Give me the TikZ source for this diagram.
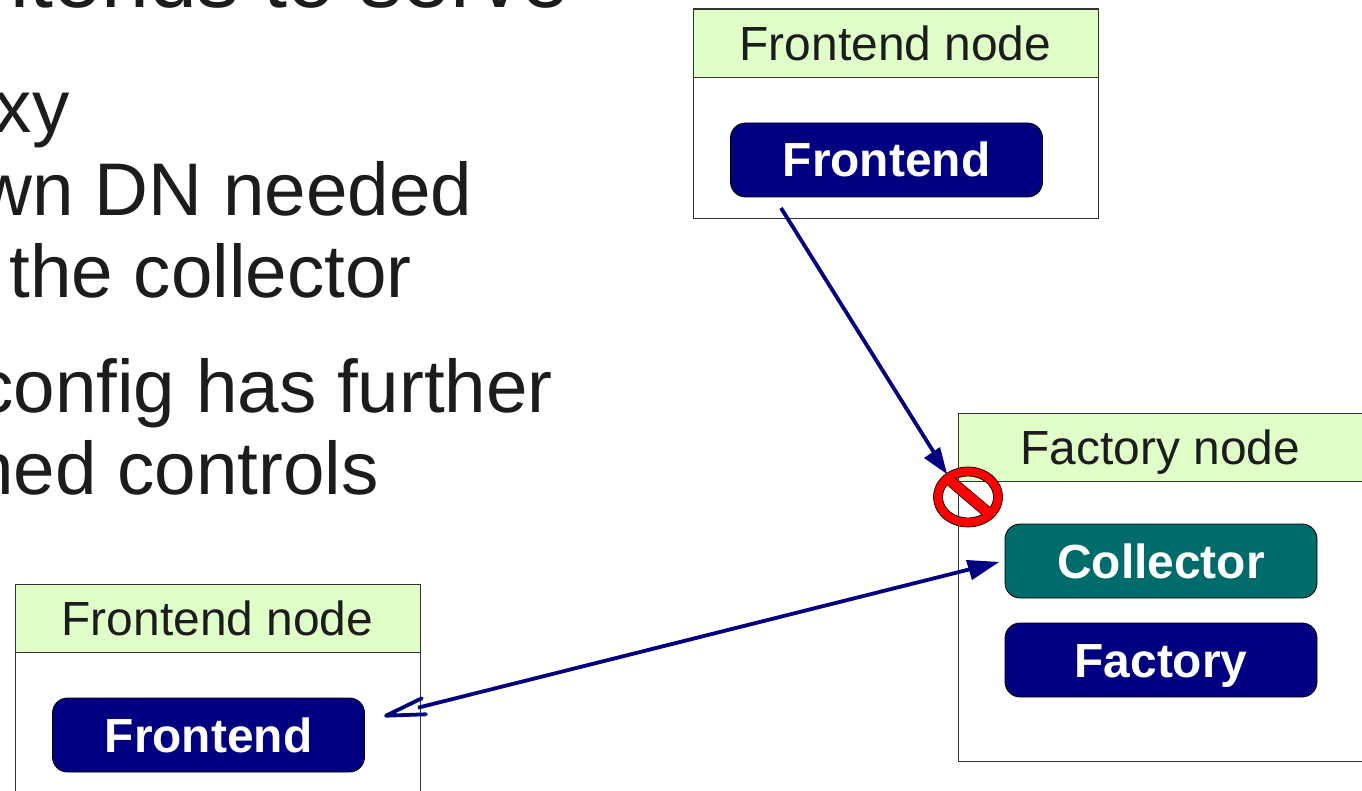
\documentclass[tikz,border=0pt]{standalone}
\usepackage{fontspec}
\setmainfont{Liberation Sans}
\definecolor{ink}{HTML}{1C1C1C}
\definecolor{hdr}{HTML}{E0FFC8}
\definecolor{navyb}{HTML}{000080}
\definecolor{tealb}{HTML}{006B6B}
\definecolor{edge}{HTML}{333333}
\tikzset{
  body/.style={font=\fontsize{74.6}{74.6}\selectfont,text=ink,anchor=base east,inner sep=0pt},
  bodybig/.style={body,font=\fontsize{86}{86}\selectfont},
  frame/.style={draw=edge,line width=1pt,fill=white,inner sep=0pt,minimum width=405pt},
  head/.style={draw=edge,line width=0.8pt,fill=hdr,inner sep=0pt,minimum height=68.5pt,minimum width=405pt,text=ink,font=\fontsize{47.9}{47.9}\selectfont,text height=34pt,text depth=0pt},
  pill/.style={draw=black,line width=0.8pt,rounded corners=15pt,inner sep=0pt,minimum width=312pt,minimum height=74pt,text=white,font=\fontsize{47.9}{47.9}\selectfont\bfseries,text height=34pt,text depth=0pt},
  link/.style={draw=navyb,line width=3.8pt},
  tipfill/.style={fill=navyb,draw=none},
  tipopen/.style={draw=navyb,line width=3.8pt,line cap=round,line join=round},
  signline/.style={draw=black,line width=0.5pt}
}
\begin{document}
\begin{tikzpicture}[x=1pt,y=-1pt]
\useasboundingbox (0,0) rectangle (1362,791);
\clip (0,0) rectangle (1362,791);
\fill[white] (0,0) rectangle (1362,791);
% body text
\node[bodybig] (t1) at (570,8) {ntends to serve};
\node[body] (t2) at (69.5,133) {xy};
\node[body] (t3) at (472.5,215.5) {wn DN needed};
\node[body] (t4) at (412,298) {the collector};
\node[body] (t5) at (553,412) {config has further};
\node[body] (t6) at (379,494) {hed controls};
% top frontend node
\node[frame,minimum height=209.5pt] (boxA) at (895.5,113.75) {};
\node[head] (headA) at (895.5,43.25) {Frontend node};
\node[pill,fill=navyb] (feA) at (886.5,160) {Frontend};
% bottom frontend node
\node[frame,minimum height=240pt] (boxB) at (217.5,704) {};
\node[head] (headB) at (217.5,618.5) {Frontend node};
\node[pill,fill=navyb] (feB) at (208.5,735) {Frontend};
% factory node
\node[frame,minimum height=348pt] (boxC) at (1160.5,587) {};
\node[head] (headC) at (1160.5,447.5) {Factory node};
\node[pill,fill=tealb] (coll) at (1161,561) {Collector};
\node[pill,fill=navyb] (fact) at (1161,660) {Factory};
% connector A
\coordinate (a0) at (781,208);
\coordinate (a1) at (938,459);
\draw[link] (a0) -- (a1);
\fill[tipfill] (924,458) -- (947,474) -- (940,447) -- cycle;
% no-entry sign
\path[fill=red,draw=black,line width=0.7pt,even odd rule]
  (968,497) ellipse [x radius=34.5pt,y radius=30pt]
  (968,497) ellipse [x radius=25.5pt,y radius=21pt];
\fill[red] (943.7,482) -- (950.7,474) -- (993.3,510) -- (985.3,517.5) -- cycle;
\draw[signline] (946,484) -- (983,515.5);
\draw[signline] (953,476) -- (991,508);
% connector B
\coordinate (b0) at (418,707.7);
\coordinate (b1) at (975,568);
\draw[link] (b0) -- (b1);
\fill[tipfill] (966,560) -- (999,562) -- (972,580) -- cycle;
\draw[tipopen] (421.7,698.3) -- (386,715.7) -- (426,714.3);
\end{tikzpicture}
\end{document}
